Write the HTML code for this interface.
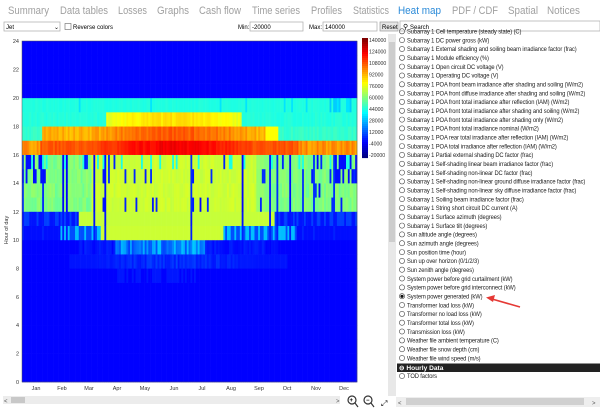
<!DOCTYPE html>
<html><head><meta charset="utf-8"><style>
html,body{margin:0;padding:0;background:#fff;width:600px;height:408px;overflow:hidden;font-family:"Liberation Sans",sans-serif}
svg text{font-family:"Liberation Sans",sans-serif}
</style></head><body>
<svg id="s" width="600" height="408" viewBox="0 0 600 408" xmlns="http://www.w3.org/2000/svg">
<rect width="600" height="408" fill="#fff"/>
<g font-size="11" fill="#a0a0a0" lengthAdjust="spacingAndGlyphs">
<text x="8" y="14" textLength="41" lengthAdjust="spacingAndGlyphs">Summary</text>
<text x="60" y="14" textLength="48" lengthAdjust="spacingAndGlyphs">Data tables</text>
<text x="118" y="14" textLength="29" lengthAdjust="spacingAndGlyphs">Losses</text>
<text x="157" y="14" textLength="32" lengthAdjust="spacingAndGlyphs">Graphs</text>
<text x="199" y="14" textLength="42" lengthAdjust="spacingAndGlyphs">Cash flow</text>
<text x="252" y="14" textLength="48" lengthAdjust="spacingAndGlyphs">Time series</text>
<text x="311" y="14" textLength="31" lengthAdjust="spacingAndGlyphs">Profiles</text>
<text x="353" y="14" textLength="36" lengthAdjust="spacingAndGlyphs">Statistics</text>
<text x="398" y="14" fill="#2a8ad8" textLength="43" lengthAdjust="spacingAndGlyphs">Heat map</text>
<text x="452" y="14" textLength="46" lengthAdjust="spacingAndGlyphs">PDF / CDF</text>
<text x="508" y="14" textLength="30" lengthAdjust="spacingAndGlyphs">Spatial</text>
<text x="547" y="14" textLength="33" lengthAdjust="spacingAndGlyphs">Notices</text>
</g>
<g font-size="6">
<rect x="4" y="22" width="56" height="9" fill="#fff" stroke="#aaa" stroke-width="0.7"/><text x="6" y="29">Jet</text><text x="54" y="29">⌄</text>
<rect x="65" y="23.5" width="6" height="6" fill="#fff" stroke="#666" stroke-width="0.6"/><text x="73" y="29">Reverse colors</text>
<text x="238" y="29">Min:</text><rect x="250" y="22" width="53" height="9" fill="#fff" stroke="#aaa" stroke-width="0.7"/><text x="252" y="29">-20000</text>
<text x="309" y="29">Max:</text><rect x="323" y="22" width="54" height="9" fill="#fff" stroke="#aaa" stroke-width="0.7"/><text x="325" y="29">140000</text>
<rect x="380" y="22" width="18" height="9" fill="#e6e6e6" stroke="#999" stroke-width="0.7"/><text x="382" y="29">Reset</text>
<rect x="400" y="21" width="200" height="10" fill="#fff" stroke="#aaa" stroke-width="0.7"/><text x="403" y="29" font-size="7">⚲</text><text x="410" y="29">Search</text>
</g>
<g id="hm"></g>
<rect x="22" y="41" width="335" height="341" fill="none" stroke="#555" stroke-width="0.5"/>
<g id="cb"></g>
<g font-size="5.5" fill="#333" text-anchor="end">
<text x="19" y="43">24</text><text x="19" y="71.5">22</text><text x="19" y="100">20</text><text x="19" y="128.5">18</text><text x="19" y="157">16</text><text x="19" y="185">14</text><text x="19" y="214">12</text><text x="19" y="242">10</text><text x="19" y="270.5">8</text><text x="19" y="299">6</text><text x="19" y="327">4</text><text x="19" y="355.5">2</text><text x="19" y="384">0</text>
</g>
<text x="8" y="230" font-size="5.5" fill="#333" transform="rotate(-90 8 230)" text-anchor="middle">Hour of day</text>
<g font-size="5.5" fill="#333" text-anchor="middle">
<text x="36" y="390">Jan</text><text x="62" y="390">Feb</text><text x="89" y="390">Mar</text><text x="117" y="390">Apr</text><text x="145" y="390">May</text><text x="174" y="390">Jun</text><text x="202" y="390">Jul</text><text x="231" y="390">Aug</text><text x="259" y="390">Sep</text><text x="287" y="390">Oct</text><text x="316" y="390">Nov</text><text x="344" y="390">Dec</text>
</g>
<g font-size="5.2" fill="#333">
<text x="369" y="42">140000</text><text x="369" y="53.5">124000</text><text x="369" y="65">108000</text><text x="369" y="76.5">92000</text><text x="369" y="88">76000</text><text x="369" y="99.5">60000</text><text x="369" y="111">44000</text><text x="369" y="122.5">28000</text><text x="369" y="134">12000</text><text x="369" y="145.5">-4000</text><text x="369" y="157">-20000</text>
</g>
<rect x="388" y="34" width="8" height="362" fill="#e8e8e8"/>
<rect x="389" y="42" width="6" height="200" fill="#cdcdcd"/>
<rect x="3" y="396" width="337" height="8" fill="#ececec"/><rect x="11" y="397" width="14" height="6" fill="#c8c8c8"/>
<text x="4" y="403" font-size="6" fill="#555">&lt;</text><text x="336" y="403" font-size="6" fill="#555">&gt;</text>
<g stroke="#333" stroke-width="1.2" fill="none"><circle cx="352" cy="400" r="4"/><line x1="355" y1="403" x2="358" y2="407"/><circle cx="368" cy="400" r="4"/><line x1="371" y1="403" x2="374" y2="407"/></g>
<text x="349.5" y="402" font-size="6" font-weight="bold">+</text><text x="366" y="402" font-size="6" font-weight="bold">−</text>
<text x="381" y="406" font-size="8">⤢</text>
<g font-size="6.6" fill="#222" letter-spacing="-0.12" transform="translate(407 0) scale(0.88 1) translate(-407 0)">
<text x="407" y="33.5">Subarray 1 Cell temperature (steady state) (C)</text>
<text x="407" y="42.3">Subarray 1 DC power gross (kW)</text>
<text x="407" y="51.2">Subarray 1 External shading and soiling beam irradiance factor (frac)</text>
<text x="407" y="60">Subarray 1 Module efficiency (%)</text>
<text x="407" y="68.8">Subarray 1 Open circuit DC voltage (V)</text>
<text x="407" y="77.7">Subarray 1 Operating DC voltage (V)</text>
<text x="407" y="86.5">Subarray 1 POA front beam irradiance after shading and soiling (W/m2)</text>
<text x="407" y="95.3">Subarray 1 POA front diffuse irradiance after shading and soiling (W/m2)</text>
<text x="407" y="104.2">Subarray 1 POA front total irradiance after reflection (IAM) (W/m2)</text>
<text x="407" y="113">Subarray 1 POA front total irradiance after shading and soiling (W/m2)</text>
<text x="407" y="121.8">Subarray 1 POA front total irradiance after shading only (W/m2)</text>
<text x="407" y="130.6">Subarray 1 POA front total irradiance nominal (W/m2)</text>
<text x="407" y="139.5">Subarray 1 POA rear total irradiance after reflection (IAM) (W/m2)</text>
<text x="407" y="148.3">Subarray 1 POA total irradiance after reflection (IAM) (W/m2)</text>
<text x="407" y="157.1">Subarray 1 Partial external shading DC factor (frac)</text>
<text x="407" y="166">Subarray 1 Self-shading linear beam irradiance factor (frac)</text>
<text x="407" y="174.8">Subarray 1 Self-shading non-linear DC factor (frac)</text>
<text x="407" y="183.6">Subarray 1 Self-shading non-linear ground diffuse irradiance factor (frac)</text>
<text x="407" y="192.5">Subarray 1 Self-shading non-linear sky diffuse irradiance factor (frac)</text>
<text x="407" y="201.3">Subarray 1 Soiling beam irradiance factor (frac)</text>
<text x="407" y="210.1">Subarray 1 String short circuit DC current (A)</text>
<text x="407" y="219">Subarray 1 Surface azimuth (degrees)</text>
<text x="407" y="227.8">Subarray 1 Surface tilt (degrees)</text>
<text x="407" y="236.6">Sun altitude angle (degrees)</text>
<text x="407" y="245.5">Sun azimuth angle (degrees)</text>
<text x="407" y="254.3">Sun position time (hour)</text>
<text x="407" y="263.1">Sun up over horizon (0/1/2/3)</text>
<text x="407" y="272">Sun zenith angle (degrees)</text>
<text x="407" y="280.8">System power before grid curtailment (kW)</text>
<text x="407" y="289.6">System power before grid interconnect (kW)</text>
<text x="407" y="298.5">System power generated (kW)</text>
<text x="407" y="307.3">Transformer load loss (kW)</text>
<text x="407" y="316.1">Transformer no load loss (kW)</text>
<text x="407" y="324.9">Transformer total loss (kW)</text>
<text x="407" y="333.8">Transmission loss (kW)</text>
<text x="407" y="342.6">Weather file ambient temperature (C)</text>
<text x="407" y="351.4">Weather file snow depth (cm)</text>
<text x="407" y="360.3">Weather file wind speed (m/s)</text>
<text x="407" y="378">TOD factors</text>
</g>
<rect x="397" y="363.5" width="203" height="8.5" fill="#222"/>
<text x="399" y="370" font-size="6.6" fill="#fff" font-weight="bold">⊖ Hourly Data</text>
<g id="rad" fill="none" stroke="#444" stroke-width="0.6"></g>
<circle cx="402" cy="296.3" r="1.6" fill="#111"/>
<rect x="396" y="397" width="204" height="10" fill="#eee"/><rect x="406" y="398" width="178" height="7" fill="#d0d0d0"/>
<text x="398" y="405" font-size="6" fill="#555">&lt;</text><text x="592" y="405" font-size="6" fill="#555">&gt;</text>
<line x1="520" y1="307" x2="492" y2="299" stroke="#e53935" stroke-width="1.6"/>
<polygon points="486,297.5 495,295 493,302" fill="#e53935"/>
</svg>
<script>
(function(){
function jet(t){t=Math.max(0,Math.min(1,t));
 function f(x){return Math.max(0,Math.min(1,1.5-Math.abs(4*t-x)));}
 return "rgb("+Math.round(255*f(3))+","+Math.round(255*f(2))+","+Math.round(255*f(1))+")";}
function col(v){return jet((v+20000)/160000);}
var seed=7;function r(){seed=(seed*16807)%2147483647;return seed/2147483647;}
var X0=22,W=335,Y0=41,H=341,ph=H/24,N=183,cw=W/N;
var frag="";
for(var i=0;i<N;i++){
 var d=i*2; var s=Math.max(0,Math.cos((d-165)/365*2*Math.PI));
 var edge=(d<25||d>340);
 var cloudy=r()<0.09, cl2=r();
 for(var h=0;h<24;h++){
  var v=0;
  if(h==16) v=(d>300||d<20)?(92000+r()*10000):(104000+14000*s+r()*6000);
  else if(h==17) v=(d<265&&d>20)?(88000+14000*s+r()*8000):(d<280&&d>=265?80000:46000+r()*4000);
  else if(h==18) v=(d>60&&d<275&&s>0.3)?(70000+12000*s+r()*5000):44000+r()*3000;
  else if(h==19) v=(d>330&&r()<0.3)?32000:(r()<0.06?36000:44000+r()*2000);
  else if(h>=12&&h<=15){ v=(d>75&&d<255)?(70000+r()*4000):(56000+r()*8000); if(cloudy||r()<0.04) v=cl2*8000; if(h>=14 && edge && r()<0.5) v=2000; if(h==15&&r()<0.12)v=44000;}
  else if(h==11){ v=(d>60&&d<275)?71000:(r()<0.5?10000:3000); if(cloudy) v=3000;}
  else if(h==10){ v=(d>85&&d<220)?72000:((d>40&&d<300)?(r()<0.5?30000:12000):2000); if(cloudy) v=5000;}
  else if(h==9){ v=(d>100&&d<200)?(10000+22000*r()):((d>60&&d<280)?6000*r():0);}
  else if(h==8){ v=(d>50&&d<290)?3000+8000*r()*s:0;}
  else if(h==7){ v=(d>100&&d<190)&&r()<0.5?3500:0;}
  frag+='<rect x="'+(X0+i*cw).toFixed(2)+'" y="'+(Y0+(23-h)*ph).toFixed(2)+'" width="'+(cw+0.3).toFixed(2)+'" height="'+(ph+0.3).toFixed(2)+'" fill="'+col(v)+'"/>';
 }
}
document.getElementById("hm").innerHTML=frag;
var cb="";for(var k=0;k<60;k++){cb+='<rect x="362" y="'+(38+k*2)+'" width="6" height="2.1" fill="'+jet(1-k/59)+'"/>';}
document.getElementById("cb").innerHTML=cb;
var rad="";var ys=[31.3];for(var j=1;j<38;j++)ys.push(31.3+j*8.83);ys.push(376);
ys.forEach(function(y){rad+='<circle cx="402" cy="'+y.toFixed(1)+'" r="2.6"/>';});
document.getElementById("rad").innerHTML=rad;
})();
</script>
</body></html>
